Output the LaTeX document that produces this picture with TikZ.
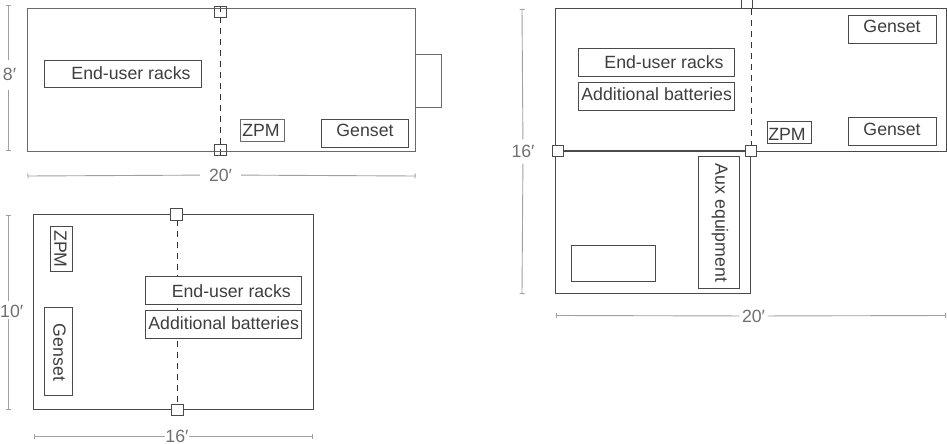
\documentclass[tikz,border=0pt]{standalone}
\usepackage{fontspec}
\setmainfont{Liberation Sans}
\usetikzlibrary{arrows.meta,backgrounds}
\definecolor{ln}{HTML}{4A4A4A}
\definecolor{lnb}{HTML}{6A6A6A}
\definecolor{dimc}{HTML}{A0A0A0}
\definecolor{txt}{HTML}{3E3E3E}
\definecolor{dimt}{HTML}{707070}
\tikzset{
  x=1pt,y=-1pt,
  room/.style={draw=ln,line width=1pt,fill=none,inner sep=0pt,outer sep=0pt},
  boxn/.style={draw=ln,line width=0.9pt,fill=white,inner sep=0pt,outer sep=0pt},
  sq/.style={draw=ln,line width=0.9pt,inner sep=0pt,outer sep=0pt,minimum width=11.5pt,minimum height=11.5pt},
  lab/.style={text=txt,inner sep=0pt,font=\fontsize{17.7}{17.7}\selectfont},
  dimlab/.style={text=dimt,inner sep=0pt,font=\fontsize{17.7}{17.7}\selectfont},
  dash line/.style={draw=black!80,line width=0.8pt,dash pattern=on 6pt off 5pt},
  dimline/.style={draw=dimc,line width=0.9pt,{Bar[width=5pt,length=0.9pt]}-},
}
\begin{document}
\begin{tikzpicture}
\useasboundingbox (0,0) rectangle (947,444);
% ---- top-left
\node[room,draw=lnb,minimum width=388.5pt,minimum height=142pt] (ra) at (221.25,80) {};
\node[sq] (sa1) at (220.5,12) {};
\node[sq] (sa2) at (220.5,150) {};
\begin{scope}[on background layer]
  \draw[dash line,shorten <=-6pt,shorten >=-7pt] (sa1.center) -- (sa2.center);
\end{scope}
\coordinate (apx1) at (415.5,54.5); \coordinate (apx2) at (441,54.5);
\coordinate (apx3) at (441,107); \coordinate (apx4) at (415.5,107);
\draw[draw=lnb,line width=0.9pt] (apx1) -- (apx2) -- (apx3) -- (apx4);
\node[boxn,minimum width=156.5pt,minimum height=27.5pt] (aracks) at (122.75,73.75) {};
\node[lab] (aracksl) at (131,73.5) {End-user racks};
\node[boxn,draw=lnb,minimum width=44pt,minimum height=21.5pt] (azpm) at (262,130.25) {};
\node[lab] (azpml) at (261,130.5) {ZPM};
\node[boxn,minimum width=87.5pt,minimum height=27.5pt] (agen) at (364.75,133.25) {};
\node[lab] (agenl) at (365,130.5) {Genset};
\coordinate (dav) at (8,5.5); \coordinate (dab) at (8,150.5);
\node[dimlab,minimum height=30pt] (lav) at (9.5,74) {8′};
\coordinate (lavt) at (8,60); \coordinate (lavb) at (8,90);
\draw[dimline] (dav) -- (lavt); \draw[dimline] (dab) -- (lavb);
\coordinate (dah1) at (27.5,176); \coordinate (dah2) at (415.5,176);
\node[dimlab,minimum width=41pt] (lah) at (220.5,175) {20′};
\draw[dimline] (dah1) -- (lah); \draw[dimline] (dah2) -- (lah);
% ---- bottom-left
\node[room,minimum width=279.5pt,minimum height=195pt] (rb) at (173.25,312) {};
\node[sq,fill=white] (sb1) at (176.5,214.5) {};
\node[sq,fill=white] (sb2) at (177.5,410) {};
\begin{scope}[on background layer]
  \draw[dash line] (sb2.center |- sb1.south) -- (sb2.center);
\end{scope}
\node[boxn,minimum width=156.5pt,minimum height=28pt] (bracks) at (223.25,290.5) {};
\node[lab] (brackl) at (231.3,290.7) {End-user racks};
\node[boxn,minimum width=156.5pt,minimum height=27.5pt] (bbat) at (223.25,324.25) {};
\node[lab] (bbatl) at (223.7,322.7) {Additional batteries};
\node[boxn,minimum width=21.5pt,minimum height=44.5pt] (bzpm) at (61.5,249) {};
\node[lab,rotate=-90] (bzpml) at (60.5,249) {ZPM};
\node[boxn,minimum width=27.5pt,minimum height=87.5pt] (bgen) at (58.5,351.5) {};
\node[lab,rotate=-90] (bgenl) at (59.5,352.5) {Genset};
\coordinate (dbv) at (8,215); \coordinate (dbb) at (8,409.5);
\node[dimlab,anchor=west] (lbv) at (0,311) {10′};
\coordinate (lbvt) at (8,301); \coordinate (lbvb) at (8,319);
\draw[dimline] (dbv) -- (lbvt); \draw[dimline] (dbb) -- (lbvb);
\coordinate (dbh1) at (34,436); \coordinate (dbh2) at (313,436);
\node[dimlab,minimum width=24pt] (lbh) at (177,436) {16′};
\draw[dimline] (dbh1) -- (lbh); \draw[dimline] (dbh2) -- (lbh);
% ---- right
\node[room,minimum width=390.5pt,minimum height=142pt] (rc) at (750.75,80) {};
\node[room,minimum width=195pt,minimum height=142pt] (rd) at (653,222) {};
\node[sq,fill=white] (sc1) at (746.7,3) {};
\node[sq,fill=white] (sc2) at (558,151) {};
\node[sq,fill=white] (sc3) at (751,151) {};
\begin{scope}[on background layer]
  \draw[dash line] (sc3.center |- sc1.south) -- (sc3.center);
\end{scope}
\draw[draw=ln,line width=1.3pt] (sc2) -- (sc3);
\node[boxn,minimum width=156.5pt,minimum height=28pt] (cracks) at (656.25,62.5) {};
\node[lab] (crackl) at (664,62.5) {End-user racks};
\node[boxn,minimum width=156.5pt,minimum height=28pt] (cbat) at (656.25,96) {};
\node[lab] (cbatl) at (656.7,94) {Additional batteries};
\node[boxn,minimum width=88pt,minimum height=28pt] (cgen1) at (892,29) {};
\node[lab] (cgen1l) at (892,26) {Genset};
\node[boxn,minimum width=88pt,minimum height=28pt] (cgen2) at (892,131) {};
\node[lab] (cgen2l) at (892,129) {Genset};
\node[boxn,minimum width=44pt,minimum height=22pt] (czpm) at (789,132.5) {};
\node[lab] (czpml) at (787,134) {ZPM};
\node[boxn,minimum width=41pt,minimum height=132pt] (caux) at (718.5,222) {};
\node[lab,rotate=-90] (cauxl) at (720,223) {Aux equipment};
\node[boxn,minimum width=84pt,minimum height=36.5pt] (cempty) at (613.5,263.25) {};
\coordinate (dcv) at (522,9); \coordinate (dcb) at (522,294);
\node[dimlab,minimum height=24pt] (lcv) at (523,151.5) {16′};
\draw[dimline] (dcv) -- (lcv); \draw[dimline] (dcb) -- (lcv);
\coordinate (dch1) at (556,315.5); \coordinate (dch2) at (946,315.5);
\node[dimlab,minimum width=28pt] (lch) at (753.5,316) {20′};
\draw[dimline] (dch1) -- (lch); \draw[dimline] (dch2) -- (lch);
\end{tikzpicture}
\end{document}
